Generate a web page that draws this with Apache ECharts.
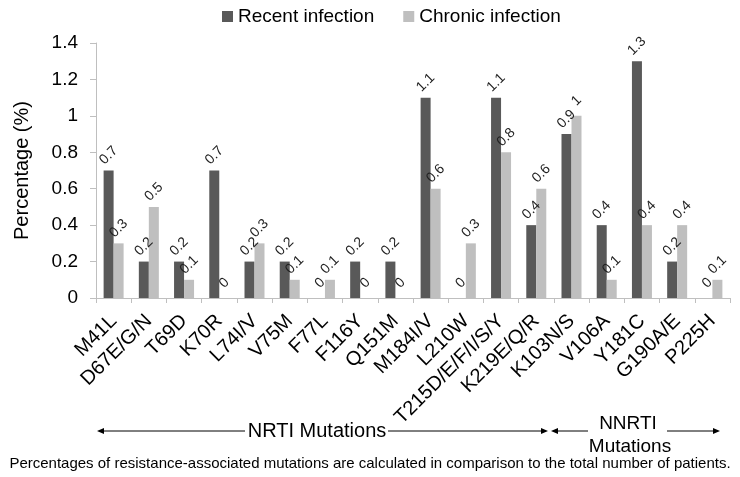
<!DOCTYPE html>
<html><head><meta charset="utf-8">
<script src="https://cdn.jsdelivr.net/npm/echarts@6/dist/echarts.min.js"></script>
<style>html,body{margin:0;padding:0;background:#fff}#c{width:740px;height:477px}</style>
</head><body><div id="c"></div>
<script>
var categories = ['M41L','D67E/G/N','T69D','K70R','L74I/V','V75M','F77L','F116Y','Q151M','M184I/V','L210W','T215D/E/F/I/S/Y','K219E/Q/R','K103N/S','V106A','Y181C','G190A/E','P225H'];
var recent  = [0.7,0.2,0.2,0.7,0.2,0.2,0,0.2,0.2,1.1,0,1.1,0.4,0.9,0.4,1.3,0.2,0];
var chronic = [0.3,0.5,0.1,0,0.3,0.1,0.1,0,0,0.6,0.3,0.8,0.6,1,0.1,0.4,0.4,0.1];
var yTicks = [0,0.2,0.4,0.6,0.8,1,1.2,1.4];

var FONT = "'Liberation Sans', Arial, sans-serif";
var chart = echarts.init(document.getElementById('c'));
var lbl = {show:true, position:'top', rotate:45, align:'center', verticalAlign:'middle', distance:15,
  fontSize:14, color:'#222', fontFamily:FONT};
function arrowGroup(x1, x2, y){
  return [
    {type:'line', shape:{x1:x1+6, y1:y, x2:x2-6, y2:y}, style:{stroke:'#000', lineWidth:1}},
    {type:'polygon', shape:{points:[[x1,y],[x1+7,y-3],[x1+7,y+3]]}, style:{fill:'#000'}},
    {type:'polygon', shape:{points:[[x2,y],[x2-7,y-3],[x2-7,y+3]]}, style:{fill:'#000'}}
  ];
}
var g = [];
g = g.concat(arrowGroup(97, 548, 431), arrowGroup(551, 720, 431));
g.push({type:'rect', shape:{x:245, y:421, width:143, height:20}, style:{fill:'#fff'}});
g.push({type:'text', x:317, y:431, style:{text:'NRTI Mutations', font:'20px '+FONT, fill:'#000', align:'center', verticalAlign:'middle'}});
g.push({type:'rect', shape:{x:588, y:421, width:79, height:20}, style:{fill:'#fff'}});
g.push({type:'text', x:628, y:424, style:{text:'NNRTI', font:'19px '+FONT, fill:'#000', align:'center', verticalAlign:'middle'}});
g.push({type:'text', x:630, y:447, style:{text:'Mutations', font:'19px '+FONT, fill:'#000', align:'center', verticalAlign:'middle'}});
g.push({type:'text', x:370, y:464, style:{text:'Percentages of resistance-associated mutations are calculated in comparison to the total number of patients.', font:'15px '+FONT, fill:'#000', align:'center', verticalAlign:'middle'}});

chart.setOption({
  animation:false,
  legend:{top:2, left:217, itemWidth:11, itemHeight:11, itemGap:29, icon:'rect',
    textStyle:{fontSize:19, color:'#000', fontFamily:FONT},
    data:['Recent infection','Chronic infection']},
  grid:{left:96, right:10, top:43, bottom:179, containLabel:false},
  xAxis:{type:'category', data:categories,
    axisLine:{lineStyle:{color:'#bfbfbf'}},
    axisTick:{show:true, alignWithLabel:false, length:5, lineStyle:{color:'#bfbfbf'}},
    axisLabel:{rotate:45, interval:0, fontSize:20, color:'#000', fontFamily:FONT, margin:20}},
  yAxis:{type:'value', min:0, max:1.4, interval:0.2,
    name:'Percentage (%)', nameLocation:'middle', nameGap:64, nameRotate:90,
    nameTextStyle:{fontSize:20, color:'#000', fontFamily:FONT},
    axisLine:{show:true, lineStyle:{color:'#bfbfbf'}},
    axisTick:{show:true, length:6, lineStyle:{color:'#bfbfbf'}},
    splitLine:{show:false},
    axisLabel:{fontSize:19, color:'#000', fontFamily:FONT, margin:18,
      formatter:function(v){ return String(Math.round(v*10)/10); }}},
  series:[
    {name:'Recent infection', type:'bar', data:recent, barWidth:10, barGap:'0%', itemStyle:{color:'#595959'}, label:lbl},
    {name:'Chronic infection', type:'bar', data:chronic, barWidth:10, itemStyle:{color:'#bfbfbf'}, label:lbl}
  ],
  graphic:g
});
</script></body></html>
